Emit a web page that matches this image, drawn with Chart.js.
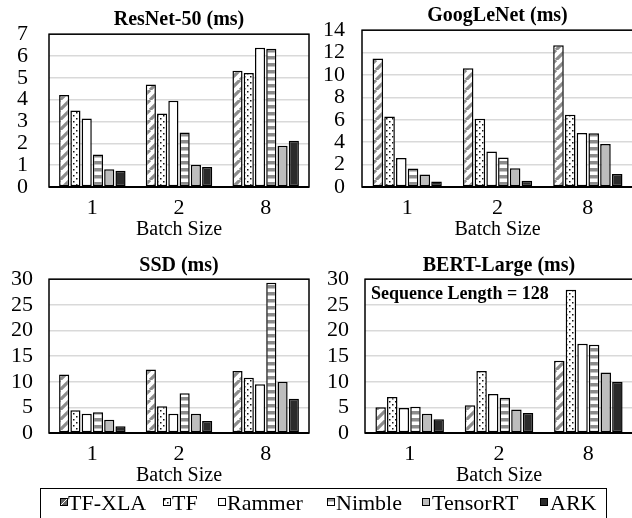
<!DOCTYPE html>
<html><head><meta charset="utf-8">
<script src="https://cdn.jsdelivr.net/npm/chart.js@4"></script>
<style>
html,body{margin:0;padding:0;background:#fff;width:632px;height:518px;overflow:hidden;position:relative;font-family:'Liberation Serif',serif;}
canvas.chart{position:absolute;}
#legendBox{position:absolute;left:40px;top:488px;width:567px;height:40px;border:1.5px solid #000;box-sizing:border-box;}
.li{position:absolute;font-family:'Liberation Serif',serif;font-size:22px;line-height:22px;white-space:nowrap;color:#000;top:492px;}
.sw{position:absolute;top:498px;width:8px;height:8px;}
</style></head><body>
<canvas id="c1" class="chart" style="left:0;top:0" width="316" height="250"></canvas>
<canvas id="c2" class="chart" style="left:316px;top:0" width="322" height="250"></canvas>
<canvas id="c3" class="chart" style="left:0;top:250px" width="316" height="250"></canvas>
<canvas id="c4" class="chart" style="left:316px;top:250px" width="322" height="250"></canvas>
<div id="legendBox"></div>
<div id="legend"></div>
<script>
// ---- data ----
const categories = ['1', '2', '8'];
const seriesNames = ['TF-XLA', 'TF', 'Rammer', 'Nimble', 'TensorRT', 'ARK'];
// values per series (order of seriesNames), per batch size 1, 2, 8
const resnet50 = [
  [4.22, 4.70, 5.33],
  [3.50, 3.37, 5.22],
  [3.14, 3.95, 6.38],
  [1.49, 2.50, 6.33],
  [0.81, 1.02, 1.89],
  [0.74, 0.92, 2.12]
];
const googlenet = [
  [11.48, 10.60, 12.65],
  [6.30, 6.10, 6.45],
  [2.60, 3.17, 4.82],
  [1.65, 2.63, 4.79],
  [1.12, 1.68, 3.85],
  [0.48, 0.55, 1.15]
];
const ssd = [
  [11.4, 12.4, 12.1],
  [4.45, 5.2, 10.8],
  [3.75, 3.75, 9.5],
  [4.07, 7.75, 29.3],
  [2.6, 3.75, 10.0],
  [1.33, 2.35, 6.7]
];
const bertLarge = [
  [5.0, 5.4, 14.1],
  [7.0, 12.1, 27.95],
  [4.9, 7.6, 17.4],
  [5.1, 6.9, 17.2],
  [3.75, 4.6, 11.8],
  [2.7, 3.9, 10.0]
];
const yTicksResnet = {max: 7, step: 1};
const yTicksGoogle = {max: 14, step: 2};
const yTicksSSD = {max: 30, step: 5};
const yTicksBert = {max: 30, step: 5};

// ---- fills ----
function tile(size, draw) {
  const c = document.createElement('canvas');
  c.width = size; c.height = size;
  const x = c.getContext('2d');
  x.fillStyle = '#fff'; x.fillRect(0, 0, size, size);
  draw(x, size);
  return c;
}
function diagTile() {
  return tile(10, (x, s) => {
    x.strokeStyle = '#8c8c8c'; x.lineWidth = 3.2; x.beginPath();
    for (const o of [-s, 0, s]) { x.moveTo(o, s); x.lineTo(o + s, 0); }
    x.stroke();
  });
}
function dotTile() {
  return tile(6, (x) => {
    x.fillStyle = '#111';
    x.fillRect(1, 1, 1.5, 1.5);
    x.fillRect(4, 4, 1.5, 1.5);
  });
}
function hTile() {
  return tile(7, (x, s) => { x.fillStyle = '#8c8c8c'; x.fillRect(0, 0, s, 3.5); });
}
const tmpCtx = document.createElement('canvas').getContext('2d');
const fills = [
  tmpCtx.createPattern(diagTile(), 'repeat'),
  tmpCtx.createPattern(dotTile(), 'repeat'),
  '#ffffff',
  tmpCtx.createPattern(hTile(), 'repeat'),
  '#bdbdbd',
  '#2b2b2b'
];

const FONT = "'Liberation Serif', serif";

const framePlugin = {
  id: 'frame',
  afterDatasetsDraw(chart) {
    const {ctx, chartArea: a} = chart;
    ctx.save();
    ctx.strokeStyle = '#000';
    ctx.lineWidth = 1.5;
    ctx.strokeRect(a.left, a.top, a.right - a.left, a.bottom - a.top);
    ctx.lineWidth = 2;
    ctx.beginPath(); ctx.moveTo(a.left, a.bottom); ctx.lineTo(a.right, a.bottom); ctx.stroke();
    ctx.restore();
  }
};

function makeChart(id, title, values, yt, cfg) {
  const datasets = seriesNames.map((name, i) => ({
    label: name,
    data: values[i],
    backgroundColor: fills[i],
    borderColor: '#000',
    borderWidth: 1.5,
    borderSkipped: false,
    categoryPercentage: 0.78,
    barPercentage: 0.9
  }));
  const plugins = [framePlugin];
  if (cfg.note) {
    plugins.push({
      id: 'note',
      afterDraw(chart) {
        const {ctx, chartArea: a} = chart;
        ctx.save();
        ctx.font = 'bold 18px ' + FONT;
        ctx.fillStyle = '#000';
        ctx.textBaseline = 'alphabetic';
        ctx.textAlign = 'left';
        ctx.fillText(cfg.note, a.left + 6, a.top + 20);
        ctx.restore();
      }
    });
  }
  return new Chart(document.getElementById(id), {
    type: 'bar',
    data: {labels: categories, datasets},
    plugins,
    options: {
      responsive: false,
      animation: false,
      devicePixelRatio: 1,
      layout: {padding: {left: 0, right: cfg.padRight, top: 0, bottom: cfg.padBottom}},
      plugins: {
        legend: {display: false},
        tooltip: {enabled: false},
        title: {
          display: true, text: title, color: '#000', fullSize: false,
          font: {family: FONT, size: 20, weight: 'bold', lineHeight: 1.2},
          padding: {top: cfg.titleTop, bottom: cfg.titleBottom}
        }
      },
      scales: {
        x: {
          grid: {display: false, drawTicks: false},
          border: {display: false},
          ticks: {color: '#000', font: {family: FONT, size: 22}, padding: 8},
          title: {display: true, text: 'Batch Size', color: '#000', font: {family: FONT, size: 20, lineHeight: 1.2}, padding: 0},
          afterFit: s => { s.height = 55; }
        },
        y: {
          min: 0, max: yt.max,
          grid: {color: '#d9d9d9', lineWidth: 1.5, drawTicks: false},
          border: {display: false},
          ticks: {stepSize: yt.step, autoSkip: false, color: '#000', font: {family: FONT, size: 22}, padding: cfg.yPad},
          afterFit: s => { s.width = cfg.yWidth; }
        }
      }
    }
  });
}

makeChart('c1', 'ResNet-50 (ms)', resnet50, yTicksResnet, {padRight: 7, padBottom: 8, titleTop: 3, titleBottom: 2, yPad: 21, yWidth: 49});
makeChart('c2', 'GoogLeNet (ms)', googlenet, yTicksGoogle, {padRight: 5, padBottom: 8, titleTop: 3, titleBottom: 2, yPad: 17, yWidth: 46});
makeChart('c3', 'SSD (ms)', ssd, yTicksSSD, {padRight: 7, padBottom: 12, titleTop: 1, titleBottom: 1, yPad: 16, yWidth: 49});
makeChart('c4', 'BERT-Large (ms)', bertLarge, yTicksBert, {padRight: 5, padBottom: 12, titleTop: 1, titleBottom: 1, yPad: 16, yWidth: 49, note: 'Sequence Length = 128'});

// ---- legend ----
const legendSwatchX = [60, 163, 218, 327, 422, 540];
const legendTextX = [68, 172, 227, 336, 432, 550];
const leg = document.getElementById('legend');
seriesNames.forEach((name, i) => {
  const sw = document.createElement('canvas');
  sw.className = 'sw'; sw.width = 8; sw.height = 8;
  sw.style.left = legendSwatchX[i] + 'px';
  const x = sw.getContext('2d');
  x.fillStyle = i === 0 ? '#666' : fills[i];
  x.fillRect(0, 0, 8, 8);
  if (i === 0) { x.strokeStyle = '#fff'; x.lineWidth = 1; x.beginPath(); x.moveTo(0, 8); x.lineTo(8, 0); x.stroke(); }
  x.strokeStyle = '#000'; x.lineWidth = 1; x.strokeRect(0.5, 0.5, 7, 7);
  leg.appendChild(sw);
  const t = document.createElement('div');
  t.className = 'li'; t.textContent = name;
  t.style.left = legendTextX[i] + 'px';
  leg.appendChild(t);
});
</script>
</body></html>
